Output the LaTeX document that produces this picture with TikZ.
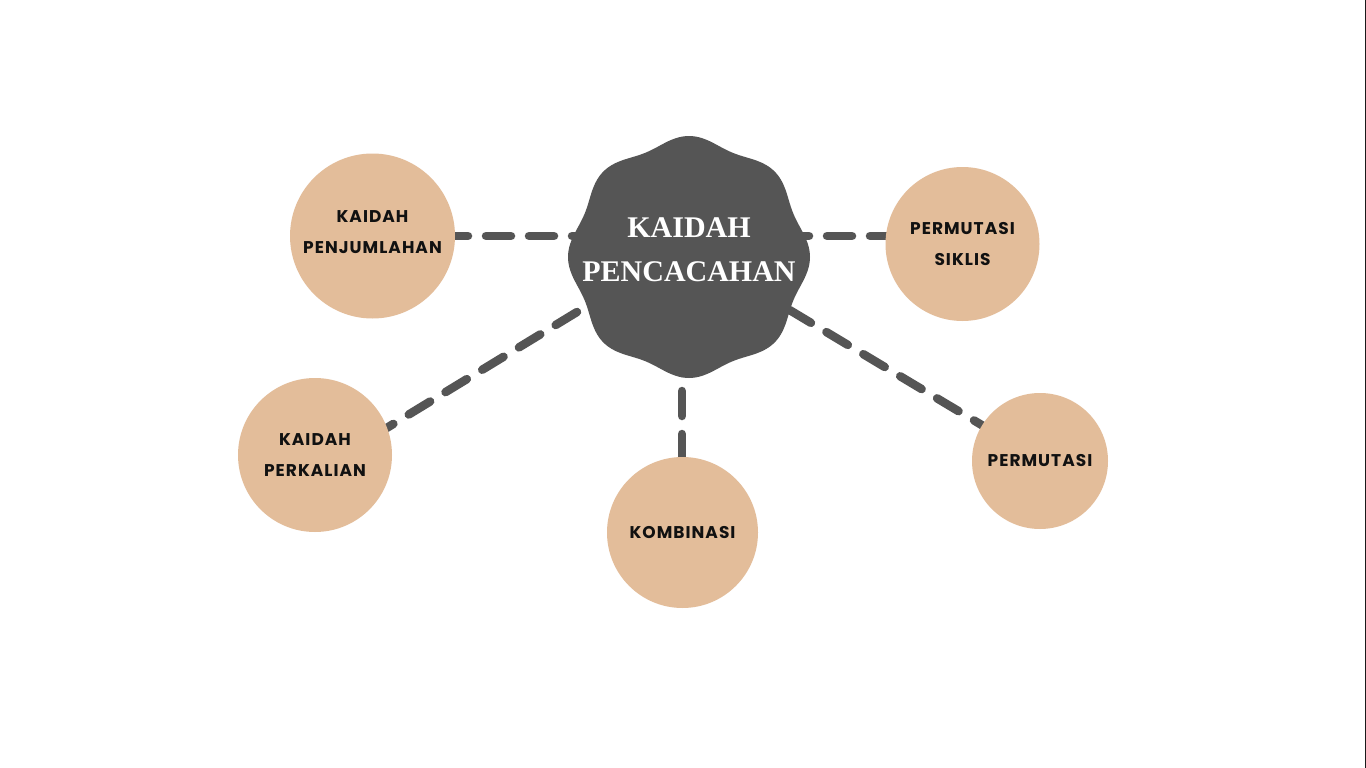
\documentclass[tikz,border=0pt]{standalone}
\usepackage{fontspec}
\newfontfamily\circfont[LetterSpace=6]{Poppins}
\newfontfamily\titlefont{Liberation Serif}
\definecolor{blobgray}{HTML}{555555}
\definecolor{peach}{HTML}{E3BD9A}
\definecolor{ink}{HTML}{111111}
\definecolor{edgeline}{HTML}{1A1A1A}
\begin{document}
\begin{tikzpicture}[x=1pt,y=-1pt,
  bubble/.style={circle, fill=peach, inner sep=0pt, align=center,
    font=\circfont\bfseries\fontsize{17}{31}\selectfont, text=ink},
  link/.style={draw=blobgray, line width=8.5pt, line cap=round,
    dash pattern=on 25pt off 18pt},
  title/.style={align=center, text=white, inner sep=0pt,
    font=\titlefont\bfseries\fontsize{30}{44}\selectfont}
]
\useasboundingbox (0,0) rectangle (1366,768);
\fill[white] (0,0) rectangle (1366,768);
\fill[edgeline] (1364.5,0) rectangle (1366,768);

% connector end points
\coordinate (l1a) at (443,236);
\coordinate (l1b) at (585,236);
\coordinate (l2a) at (784,236);
\coordinate (l2b) at (895,236);
\coordinate (l3a) at (577,312);
\coordinate (l3b) at (385,429);
\coordinate (l4a) at (789.5,310);
\coordinate (l4b) at (990,430);
\coordinate (l5a) at (682,348);
\coordinate (l5b) at (682,470);

\draw[link] (l1a) -- (l1b);
\draw[link] (l2a) -- (l2b);
\draw[link] (l3a) -- (l3b);
\draw[link] (l4a) -- (l4b);
\draw[link] (l5a) -- (l5b);

% central wavy badge
\fill[blobgray] plot[domain=0:357.5, samples=144, smooth cycle, variable=\t]
  ({689+(117+4*cos(8*\t))*cos(\t)}, {257+(117+4*cos(8*\t))*sin(\t)});
\node[title] (center) at (689,250) {KAIDAH\\PENCACAHAN};

% outer circles
\node[bubble, minimum size=165pt] (pj) at (372.5,236) {KAIDAH\\PENJUMLAHAN\\[-23pt]\mbox{}};
\node[bubble, minimum size=154pt] (ps) at (962.5,244) {PERMUTASI\\SIKLIS};
\node[bubble, minimum size=154pt] (pk) at (315,455) {KAIDAH\\PERKALIAN};
\node[bubble, minimum size=151pt] (kb) at (682.5,532.5) {KOMBINASI};
\node[bubble, minimum size=136pt] (pm) at (1040,461) {PERMUTASI};
\end{tikzpicture}
\end{document}
